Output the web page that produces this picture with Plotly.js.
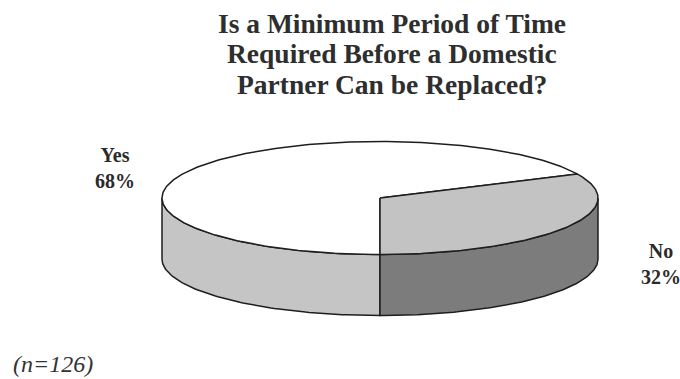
<!DOCTYPE html>
<html>
<head>
<meta charset="utf-8">
<script src="https://cdn.plot.ly/plotly-3.0.1.min.js"></script>
<style>html,body{margin:0;padding:0;background:#fff;}#chart{width:680px;height:379px;}</style>
</head>
<body>
<div id="chart"></div>
<script>
// ---- data ----
const categories = ['Yes', 'No'];
const values = [68, 32];
const titleLines = ['Is a Minimum Period of Time', 'Required Before a Domestic', 'Partner Can be Replaced?'];
const sampleNote = '(n=126)';

// ---- style ----
const topColors = ['#ffffff', '#c3c3c3'];
const sideColors = ['#c5c5c5', '#7c7c7c'];
const edgeColor = '#1e1e1e';
const serif = '"Liberation Serif", "Times New Roman", serif';

// ---- pie geometry (pixel space) ----
const cx = 380, cy = 198, ra = 218, rb = 56.5, depth = 61;
const startAngle = 270; // slices run clockwise from the bottom

const rad = d => d * Math.PI / 180;
const px = t => cx + ra * Math.cos(rad(t));
const py = t => cy - rb * Math.sin(rad(t));

function arc(t1, t2) {
  const n = Math.max(2, Math.ceil(Math.abs(t2 - t1)));
  const xs = [], ys = [];
  for (let i = 0; i <= n; i++) {
    const t = t1 + (t2 - t1) * i / n;
    xs.push(px(t)); ys.push(py(t));
  }
  return [xs, ys];
}

const total = values.reduce((s, v) => s + v, 0);
const slices = [];
let ang = startAngle;
values.forEach((v, i) => {
  const sweep = 360 * v / total;
  slices.push({lo: ang - sweep, hi: ang, i});
  ang -= sweep;
});

const traces = [];
// side walls (front half only)
slices.forEach(s => {
  for (let k = -1; k <= 1; k++) {
    const lo = Math.max(s.lo, 180 + 360 * k);
    const hi = Math.min(s.hi, 360 + 360 * k);
    if (hi > lo) {
      const [xs, ys] = arc(lo, hi);
      const bx = xs.slice().reverse();
      const by = ys.slice().reverse().map(y => y + depth);
      traces.push({
        type: 'scatter', mode: 'lines', fill: 'toself',
        x: xs.concat(bx, [xs[0]]), y: ys.concat(by, [ys[0]]),
        fillcolor: sideColors[s.i], line: {color: edgeColor, width: 1.5},
        hoverinfo: 'text', text: categories[s.i] + ' ' + values[s.i] + '%', showlegend: false
      });
    }
  }
});
// top faces
slices.forEach(s => {
  const [xs, ys] = arc(s.lo, s.hi);
  traces.push({
    type: 'scatter', mode: 'lines', fill: 'toself',
    x: [cx].concat(xs, [cx]), y: [cy].concat(ys, [cy]),
    fillcolor: topColors[s.i], line: {color: edgeColor, width: 1.5},
    hoverinfo: 'text', text: categories[s.i] + ' ' + values[s.i] + '%', showlegend: false
  });
});

const labelPos = [{x: 115, y: 168}, {x: 661, y: 264}];
const annotations = [];
titleLines.forEach((t, i) => {
  annotations.push({
    text: '<b>' + t + '</b>', x: 392, y: 23 + i * 30.5, xref: 'x', yref: 'y',
    xanchor: 'center', yanchor: 'middle', showarrow: false,
    font: {family: serif, size: 27.5, color: '#2e2e2e'}
  });
});
categories.forEach((c, i) => {
  annotations.push({
    text: '<b>' + c + '<br>' + values[i] + '%</b>', x: labelPos[i].x, y: labelPos[i].y,
    xref: 'x', yref: 'y', xanchor: 'center', yanchor: 'middle', showarrow: false,
    font: {family: serif, size: 20, color: '#2a2a2a'}
  });
});
annotations.push({
  text: '<i>' + sampleNote + '</i>', x: 11, y: 364, xref: 'x', yref: 'y',
  xanchor: 'left', yanchor: 'middle', showarrow: false,
  font: {family: serif, size: 24, color: '#333333'}
});

const layout = {
  width: 680, height: 379,
  margin: {l: 0, r: 0, t: 0, b: 0},
  paper_bgcolor: '#ffffff', plot_bgcolor: '#ffffff',
  xaxis: {range: [0, 680], visible: false, fixedrange: true},
  yaxis: {range: [379, 0], visible: false, fixedrange: true},
  showlegend: false,
  annotations: annotations
};

Plotly.newPlot('chart', traces, layout, {displayModeBar: false, staticPlot: true});
</script>
</body>
</html>
